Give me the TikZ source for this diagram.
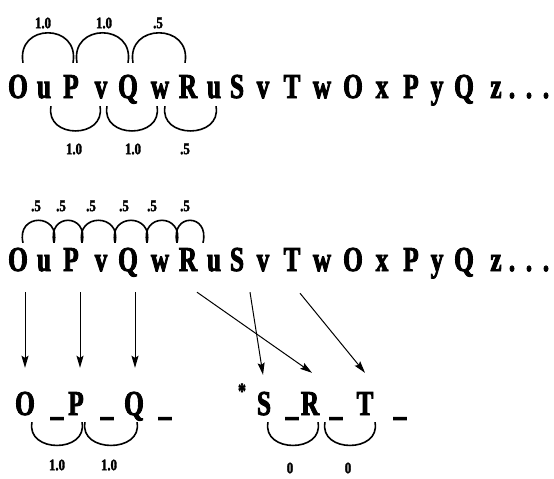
\documentclass[tikz,border=0pt]{standalone}
\usepackage{fontspec}
\setmainfont{Liberation Serif}
\newfontfamily\seqfont[FakeStretch=0.72, FakeBold=2.5]{Liberation Serif Bold}
\newfontfamily\wtfont[FakeStretch=0.8, FakeBold=2]{Liberation Serif Bold}
\usetikzlibrary{arrows.meta}

\tikzset{
  tok/.style={font=\seqfont\fontsize{35}{35}\selectfont,
    inner sep=0pt, anchor=base, text height=23pt, text depth=0pt},
  wt/.style={font=\wtfont\fontsize{16}{16}\selectfont, inner sep=0pt},
  star/.style={font=\seqfont\fontsize{22}{22}\selectfont, inner sep=0pt},
  arcline/.style={line width=1.6pt},
  overarc/.style={arcline, to path={.. controls +(-7,-#1) and +(7,-#1) .. (\tikztotarget)}},
  underarc/.style={arcline, to path={.. controls +(-6,#1) and +(6,#1) .. (\tikztotarget)}},
  move/.style={line width=1pt, -{Stealth[length=12pt,width=7pt,inset=2pt]}},
}

\begin{document}
\begin{tikzpicture}[x=1pt,y=-1pt]
\path[use as bounding box] (0,0) rectangle (554,479);

% the two copies of the input string
\foreach \t/\x [count=\i] in {O/18,u/44,P/71,v/101,Q/128,w/160,R/188,u/214,S/237,v/263,T/292,w/322,O/353,x/382,P/411,y/437,Q/464,z/496,./512,./529,./546}{
  \node[tok] (a\i) at (\x,98) {\t};
  \node[tok] (b\i) at (\x,271) {\t};
}

% first string: links between capitals above, lower-case below
\draw[overarc=40] ([shift={(5,-12)}]a1.north) to ([shift={(2,-12)}]a3.north);
\draw[overarc=40] ([shift={(6,-12)}]a3.north) to ([shift={(0,-12)}]a5.north);
\draw[overarc=40] ([shift={(5,-12)}]a5.north) to ([shift={(-3,-12)}]a7.north);
\node[wt] (w1) at (43,23) {1.0};
\node[wt] (w2) at (104,23) {1.0};
\node[wt] (w3) at (158,23) {.5};

\draw[underarc=33] ([shift={(7,8)}]a2.south) to ([shift={(-1,8)}]a4.south);
\draw[underarc=33] ([shift={(6,8)}]a4.south) to ([shift={(-3,8)}]a6.south);
\draw[underarc=33] ([shift={(5,8)}]a6.south) to ([shift={(2,8)}]a8.south);
\node[wt] (w4) at (74,149) {1.0};
\node[wt] (w5) at (133,149) {1.0};
\node[wt] (w6) at (185,149) {.5};

% second string: links between neighbours
\foreach \i/\si/\j/\sj/\lx in {1/5/2/10/36, 2/10/3/11/61, 3/11/4/14/91, 4/14/5/19/124, 5/19/6/17/152, 6/17/7/15/185}{
  \draw[overarc=30] ([shift={(\si,-5)}]b\i.north) to ([shift={(\sj,-5)}]b\j.north);
  \node[wt] (p\i) at (\lx,206) {.5};
}

% reduced output strings
\foreach \t/\x [count=\i] in {O/25,\_/57,P/76,\_/107,Q/134,\_/165}{
  \node[tok] (c\i) at (\x,415) {\t};
}
\node[star] (c7) at (242,391) {*};
\foreach \t/\x [count=\i from 8] in {S/264,\_/292,R/310,\_/336,T/365,\_/400}{
  \node[tok] (c\i) at (\x,415) {\t};
}

\draw[underarc=31] ([shift={(7,7)}]c1.south) to ([shift={(6,7)}]c3.south);
\draw[underarc=31] ([shift={(9,7)}]c3.south) to ([shift={(3,7)}]c5.south);
\node[wt] (q1) at (57,465) {1.0};
\node[wt] (q2) at (109,465) {1.0};

\draw[underarc=31] ([shift={(4,7)}]c8.south) to ([shift={(8,7)}]c10.south);
\draw[underarc=31] ([shift={(15,7)}]c10.south) to ([shift={(10,7)}]c12.south);
\node[wt] (q3) at (290,468) {0};
\node[wt] (q4) at (348,468) {0};

% mappings from the input to the output
\draw[move] ([shift={(7,21)}]b1.south) -- ([shift={(0,-24)}]c1.north);
\draw[move] ([shift={(9,21)}]b3.south) -- ([shift={(4,-24)}]c3.north);
\draw[move] ([shift={(7,21)}]b5.south) -- ([shift={(1,-24)}]c5.north);
\draw[move] ([shift={(13,21)}]b9.south) -- ([shift={(-1,-17)}]c8.north);
\draw[move] ([shift={(9,21)}]b7.south) -- ([shift={(2,-19)}]c10.north);
\draw[move] ([shift={(8,22)}]b11.south) -- ([shift={(0,-19)}]c12.north);
\end{tikzpicture}
\end{document}
